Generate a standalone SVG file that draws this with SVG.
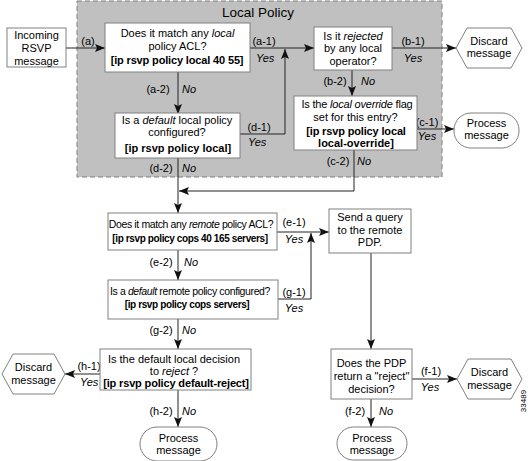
<svg xmlns="http://www.w3.org/2000/svg" width="528" height="461" viewBox="0 0 528 461">
<defs>
<style>
text{font-family:"Liberation Sans",Arial,sans-serif;font-size:11px;fill:#000}
.c{text-anchor:middle}
.b{font-weight:bold}
.i{font-style:italic}
.n{font-size:10px;letter-spacing:-0.38px}
.s1{letter-spacing:-0.15px}
.box{fill:#fff;stroke:#808080;stroke-width:1}
.conn path{fill:none;stroke:#222;stroke-width:1;marker-end:url(#ah)}
.title{font-size:13.5px}
.num{font-size:8px}
</style>
<marker id="ah" markerUnits="userSpaceOnUse" markerWidth="10" markerHeight="8" refX="10" refY="4" orient="auto">
<path d="M0,0 L10,4 L0,8 L2,4 z" fill="#111"/>
</marker>
</defs>
<rect width="528" height="461" fill="#fff"/>
<g id="local-policy">
<rect x="77" y="1" width="365" height="176" fill="#c0c0c0" stroke="#808080" stroke-dasharray="5,3"/>
<text class="c title" x="258" y="17">Local Policy</text>
</g>

<g class="conn" id="connectors">
<path d="M66,48 H105"/>
<path d="M250,48 H314"/>
<path d="M392,48 H456"/>
<path d="M178,72 V114"/>
<path d="M352,70 V96"/>
<path d="M240,134 H285 V49"/>
<path d="M417,129 H454"/>
<path d="M354,150 V191 H179"/>
<path d="M178,158 V213"/>
<path d="M277,232 H329"/>
<path d="M278,299 H311 V233"/>
<path d="M178,250 V280"/>
<path d="M178,319 V349"/>
<path d="M100,374 H65"/>
<path d="M178,390 V427"/>
<path d="M371,253 V349"/>
<path d="M412,379 H457"/>
<path d="M371,399 V427"/>
</g>

<g id="labels">
<text class="c" x="88" y="45">(a)</text>
<text class="c" x="264" y="45">(a-1)</text>
<text class="i" x="256" y="62">Yes</text>
<text class="c" x="413" y="45">(b-1)</text>
<text class="c i" x="413" y="62">Yes</text>
<text class="c" x="158" y="93">(a-2)</text>
<text class="i" x="182" y="93">No</text>
<text class="c" x="335" y="85">(b-2)</text>
<text class="i" x="361" y="85">No</text>
<text class="c" x="259" y="131">(d-1)</text>
<text class="i" x="248" y="146">Yes</text>
<text class="c" x="427" y="126">(c-1)</text>
<text class="c i" x="427" y="140">Yes</text>
<text class="c" x="161" y="172">(d-2)</text>
<text class="i" x="182" y="172">No</text>
<text class="c" x="338" y="165">(c-2)</text>
<text class="i" x="357" y="165">No</text>
<text class="c" x="294" y="226">(e-1)</text>
<text class="c i" x="294" y="243">Yes</text>
<text class="c" x="161" y="266">(e-2)</text>
<text class="i" x="184" y="266">No</text>
<text class="c" x="294" y="296">(g-1)</text>
<text class="c i" x="294" y="312">Yes</text>
<text class="c" x="161" y="334">(g-2)</text>
<text class="i" x="182" y="334">No</text>
<text class="c" x="89" y="370">(h-1)</text>
<text class="i" x="80" y="386">Yes</text>
<text class="c" x="161" y="415">(h-2)</text>
<text class="i" x="182" y="415">No</text>
<text class="c" x="431" y="375">(f-1)</text>
<text class="c i" x="430" y="391">Yes</text>
<text class="c" x="355" y="415">(f-2)</text>
<text class="i" x="379" y="415">No</text>
</g>

<g id="incoming">
<rect class="box" x="7" y="28" width="59" height="39"/>
<text class="c" x="36.5" y="39">Incoming</text>
<text class="c" x="36.5" y="52">RSVP</text>
<text class="c" x="36.5" y="65">message</text>
</g>

<g id="match-local">
<rect class="box" x="105" y="23" width="145" height="49"/>
<text class="c" x="177.5" y="37">Does it match any <tspan class="i">local</tspan></text>
<text class="c" x="177.5" y="50">policy ACL?</text>
<text class="c b s1" x="177" y="64">[ip rsvp policy local 40 55]</text>
</g>

<g id="rejected">
<rect class="box" x="314" y="27" width="78" height="43"/>
<text class="c" x="353" y="40">Is it <tspan class="i">rejected</tspan></text>
<text class="c" x="353" y="52">by any local</text>
<text class="c" x="353" y="65">operator?</text>
</g>

<g id="discard-1">
<polygon class="box" points="456,48 467,28 511,28 522,48 511,68 467,68"/>
<text class="c" x="489" y="45">Discard</text>
<text class="c" x="489" y="57">message</text>
</g>

<g id="default-local">
<rect class="box" x="115" y="113" width="125" height="45"/>
<text class="c" x="177" y="124">Is a <tspan class="i">default</tspan> local policy</text>
<text class="c" x="177" y="136">configured?</text>
<text class="c b" x="178" y="152">[ip rsvp policy local]</text>
</g>

<g id="override">
<rect class="box" x="294" y="96" width="123" height="54"/>
<text class="c" x="357" y="108" style="letter-spacing:-0.2px">Is the <tspan class="i">local override</tspan> flag</text>
<text class="c" x="355.5" y="121">set for this entry?</text>
<text class="c b s1" x="356" y="135">[ip rsvp policy local</text>
<text class="c b" x="356" y="147">local-override]</text>
</g>

<g id="process-1">
<rect class="box" x="454" y="113" width="65" height="35" rx="17" ry="17"/>
<text class="c" x="486.5" y="127">Process</text>
<text class="c" x="486.5" y="139">message</text>
</g>

<g id="match-remote">
<rect class="box" x="108" y="213" width="169" height="37"/>
<text class="c n" x="191" y="228" style="font-size:10.5px">Does it match any <tspan class="i">remote</tspan> policy ACL?</text>
<text class="c b n" x="190" y="242">[ip rsvp policy cops 40 165 servers]</text>
</g>

<g id="send-query">
<rect class="box" x="329" y="209" width="82" height="44"/>
<text class="c" x="370" y="221">Send a query</text>
<text class="c" x="370" y="234">to the remote</text>
<text class="c" x="370" y="246">PDP.</text>
</g>

<g id="default-remote">
<rect class="box" x="108" y="280" width="170" height="39"/>
<text class="c n" x="190" y="295" style="font-size:10.5px">Is a <tspan class="i">default</tspan> remote policy configured?</text>
<text class="c b n" x="187" y="308">[ip rsvp policy cops servers]</text>
</g>

<g id="default-reject">
<rect class="box" x="100" y="349" width="151" height="41"/>
<text class="c" x="174" y="363">Is the default local decision</text>
<text class="c" x="174" y="375">to <tspan class="i">reject</tspan> ?</text>
<text class="c b s1" x="176" y="387">[ip rsvp policy default-reject]</text>
</g>

<g id="discard-2">
<polygon class="box" points="2,374 13,354 54,354 65,374 54,394 13,394"/>
<text class="c" x="33.5" y="371">Discard</text>
<text class="c" x="33.5" y="384">message</text>
</g>

<g id="process-2">
<rect class="box" x="140" y="427" width="77" height="34" rx="17" ry="17"/>
<text class="c" x="178.5" y="442">Process</text>
<text class="c" x="178.5" y="454">message</text>
</g>

<g id="pdp-reject">
<rect class="box" x="331" y="349" width="81" height="50"/>
<text class="c" x="371.5" y="367">Does the PDP</text>
<text class="c" x="371.5" y="380">return a "reject"</text>
<text class="c" x="371.5" y="393">decision?</text>
</g>

<g id="discard-3">
<polygon class="box" points="457,379 468,359 511,359 522,379 511,399 468,399"/>
<text class="c" x="489.5" y="376">Discard</text>
<text class="c" x="489.5" y="389">message</text>
</g>

<g id="process-3">
<rect class="box" x="337" y="427" width="70" height="33" rx="16.5" ry="16.5"/>
<text class="c" x="372" y="442">Process</text>
<text class="c" x="372" y="454">message</text>
</g>

<text class="c num" transform="translate(526,401) rotate(-90)">33489</text>
</svg>
